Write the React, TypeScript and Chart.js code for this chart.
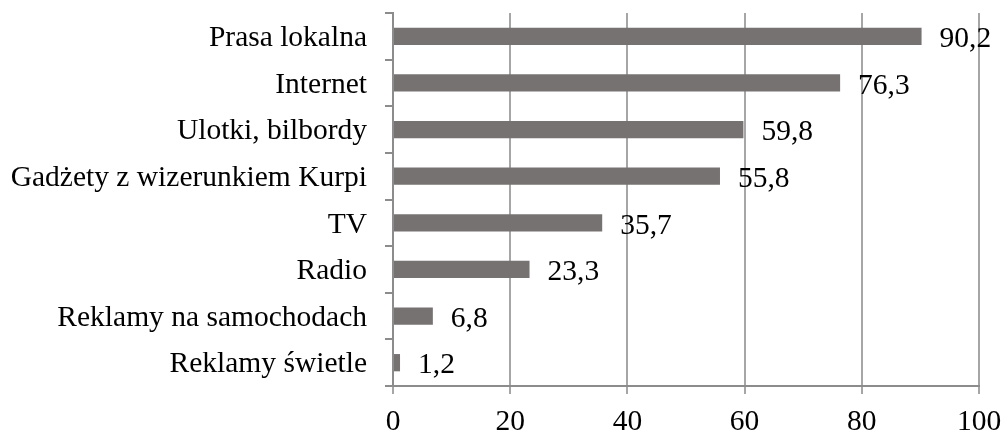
import React, { useEffect, useRef } from "react";
import { Chart, registerables } from "chart.js";

Chart.register(...registerables);

const categories = [
  "Prasa lokalna",
  "Internet",
  "Ulotki, bilbordy",
  "Gadżety z wizerunkiem Kurpi",
  "TV",
  "Radio",
  "Reklamy na samochodach",
  "Reklamy świetle",
];
const values = [90.2, 76.3, 59.8, 55.8, 35.7, 23.3, 6.8, 1.2];
const valueLabels = ["90,2", "76,3", "59,8", "55,8", "35,7", "23,3", "6,8", "1,2"];

const FONT = "'Liberation Serif', 'Times New Roman', serif";
const FSIZE = 29.5;

const labelPlugin = {
  id: "valueLabels",
  afterDatasetsDraw(chart: any) {
    const ctx = chart.ctx;
    const meta = chart.getDatasetMeta(0);
    ctx.save();
    ctx.fillStyle = "#000";
    ctx.font = `${FSIZE}px ${FONT}`;
    ctx.textAlign = "left";
    ctx.textBaseline = "middle";
    meta.data.forEach((bar: any, i: number) => {
      ctx.fillText(valueLabels[i], bar.x + 18, bar.y + 3);
    });
    ctx.restore();
  },
};

function zeroPad(scale: any) {
  scale.paddingTop = 0;
  scale.paddingBottom = 0;
  scale.paddingLeft = 0;
  scale.paddingRight = 0;
}

export default function App() {
  const ref = useRef<HTMLCanvasElement>(null);
  useEffect(() => {
    document.body.style.margin = "0";
    const chart = new Chart(ref.current!, {
      type: "bar",
      data: {
        labels: categories,
        datasets: [
          {
            data: values,
            backgroundColor: "#767272",
            borderWidth: 0,
            barPercentage: 0.37,
            categoryPercentage: 1,
          },
        ],
      },
      options: {
        indexAxis: "y",
        animation: false,
        responsive: false,
        maintainAspectRatio: false,
        layout: { autoPadding: false, padding: { top: 13, right: 23, left: 0, bottom: 0 } },
        plugins: { legend: { display: false }, tooltip: { enabled: false } },
        scales: {
          x: {
            min: 0,
            max: 100,
            ticks: {
              stepSize: 20,
              color: "#000",
              font: { family: FONT, size: FSIZE },
              padding: 11,
              maxRotation: 0,
            },
            grid: {
              color: "#a6a6a6",
              lineWidth: 2,
              tickLength: 8,
              drawTicks: true,
            },
            border: { color: "#8c8c8c", width: 2 },
            afterFit(scale: any) {
              scale.height = 46;
              zeroPad(scale);
            },
          },
          y: {
            ticks: {
              color: "#000",
              font: { family: FONT, size: FSIZE },
              padding: 18,
              labelOffset: 2,
            },
            grid: {
              drawOnChartArea: false,
              color: "#8c8c8c",
              lineWidth: 2,
              tickLength: 8,
              offset: true,
            },
            border: { color: "#8c8c8c", width: 2 },
            afterFit(scale: any) {
              scale.width = 393;
              zeroPad(scale);
            },
          },
        },
      },
      plugins: [labelPlugin],
    });
    return () => chart.destroy();
  }, []);
  return (
    <div style={{ width: 1002, height: 432 }}>
      <canvas ref={ref} width={1002} height={432} style={{ display: "block" }} />
    </div>
  );
}
